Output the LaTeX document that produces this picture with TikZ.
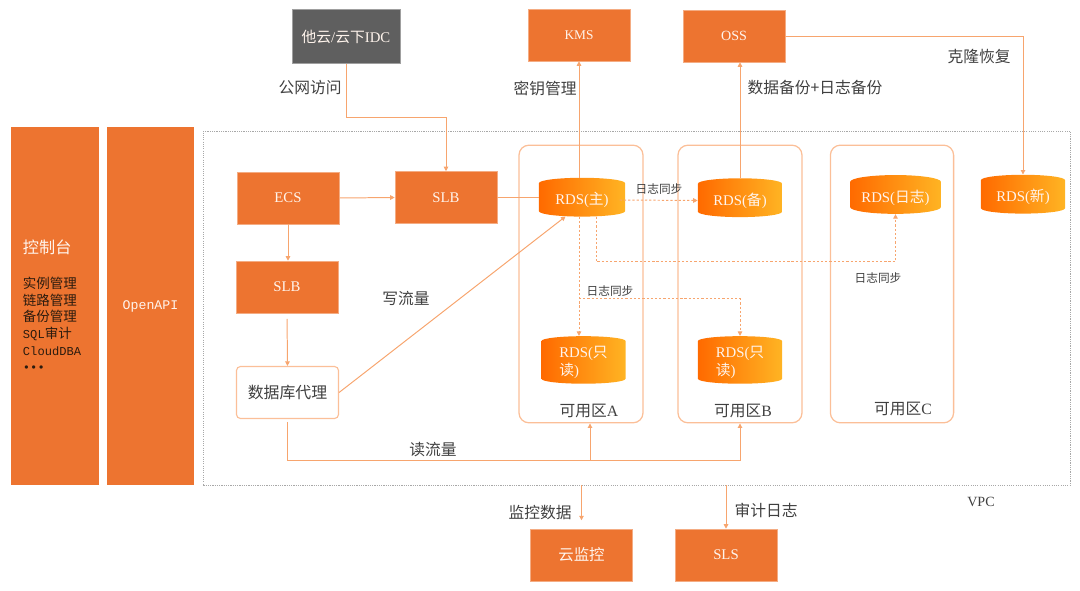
\documentclass[tikz,border=0pt]{standalone}
\usepackage{fontspec}
\setmainfont{Liberation Serif}
\setmonofont{Liberation Mono}
\newfontfamily\cjk{Noto Sans CJK SC}
\usetikzlibrary{arrows.meta,shapes.geometric}
\definecolor{aliorange}{HTML}{ED7430}
\definecolor{aligray}{HTML}{5F5F5F}
\definecolor{linkorange}{HTML}{F7A56E}
\definecolor{zoneorange}{HTML}{FBBF98}
\definecolor{rdsleft}{HTML}{FF6A00}
\definecolor{rdsright}{HTML}{FFB423}
\definecolor{labelgray}{HTML}{404040}
\definecolor{vpcgray}{HTML}{A8A8A8}
\definecolor{boxtext}{HTML}{FFF4EC}
\definecolor{listtext}{HTML}{2B1B0E}
\tikzset{
  obox/.style={rectangle, fill=aliorange, draw=aliorange!60!white, line width=0.4pt,
    text=boxtext, minimum width=2.55cm, minimum height=1.3cm, inner sep=0pt,
    font=\fontsize{10.5}{12}\selectfont},
  gbox/.style={obox, fill=aligray, draw=aligray!60!white, minimum width=2.7cm,
    minimum height=1.35cm, font=\fontsize{10.5}{12}\selectfont},
  pbox/.style={rectangle, rounded corners=0.1cm, draw=zoneorange, line width=0.8pt,
    fill=white, text=labelgray, minimum width=2.55cm, minimum height=1.3cm,
    font=\cjk\fontsize{11.3}{13}\selectfont},
  panel/.style={rectangle, fill=aliorange, minimum width=2.2cm, minimum height=8.95cm,
    inner sep=0pt},
  zone/.style={rectangle, rounded corners=0.25cm, draw=zoneorange, line width=0.9pt,
    minimum width=3.1cm, minimum height=6.94cm},
  vpcbox/.style={rectangle, draw=vpcgray, line width=0.5pt, dash pattern=on 0.8pt off 0.8pt,
    minimum width=21.675cm, minimum height=8.85cm},
  rds/.style={cylinder, shape border rotate=90, aspect=0.2, left color=rdsleft,
    right color=rdsright, draw=none, text=boxtext, minimum width=2.1cm,
    minimum height=0.97cm, inner sep=0pt, font=\fontsize{10.5}{13}\selectfont, align=left},
  lbl/.style={text=labelgray, font=\cjk\fontsize{11.2}{13}\selectfont, inner sep=0pt},
  synclbl/.style={lbl, font=\cjk\fontsize{8.3}{10}\selectfont},
  link/.style={draw=linkorange, line width=0.7pt, -{Triangle[length=3.2pt,width=3.2pt]}},
  sync/.style={link, dash pattern=on 1.6pt off 1.4pt},
}
\begin{document}
\begin{tikzpicture}[x=0.025cm,y=-0.025cm]
  \useasboundingbox (0,0) rectangle (1080,591);
  \node[panel, text width=1.6cm, align=left, text=listtext,
    font=\cjk\fontsize{9.6}{11.8}\selectfont] (con) at (55,306)
    {{\fontsize{11.5}{13}\selectfont\color{boxtext}控制台}\\[13pt]
     实例管理\\链路管理\\备份管理\\
     {\ttfamily\fontsize{8.6}{11.8}\selectfont SQL}审计\\
     {\ttfamily\fontsize{8.6}{11.8}\selectfont CloudDBA}\\
     {\ttfamily\fontsize{8.6}{11.8}\selectfont •••}};
  \node[panel, text=boxtext, font=\ttfamily\fontsize{9.4}{11}\selectfont,
    minimum width=2.17cm] (api) at (150.5,306) {OpenAPI};
  \node[vpcbox] (vpc) at (637,308) {};
  \node[lbl, font=\fontsize{10}{11}\selectfont] (vpcl) at (981,502) {VPC};
  \node[gbox] (idc) at (346,36.5) {{\cjk 他云}/{\cjk 云下}IDC};
  \node[obox, font=\fontsize{9.5}{10}\selectfont] (kms) at (579,35) {KMS};
  \node[obox, font=\fontsize{10}{10}\selectfont] (oss) at (734,36) {OSS};
  \node[obox] (ecs) at (288,198) {ECS};
  \node[obox] (slbT) at (446,197.5) {SLB};
  \node[obox] (slbL) at (287,287) {SLB};
  \node[pbox] (proxy) at (287.5,392.5) {数据库代理};
  \node[zone] (zA) at (581,284) {};
  \node[zone] (zB) at (740,284) {};
  \node[zone, minimum width=3.08cm] (zC) at (892,284) {};
  \node[lbl] (zAl) at (589,411) {可用区{\rmfamily A}};
  \node[lbl] (zBl) at (743,411) {可用区{\rmfamily B}};
  \node[lbl] (zCl) at (903,409) {可用区{\rmfamily C}};
  \node[rds, minimum width=2.15cm] (rdsM) at (582,200) {RDS({\cjk 主})};
  \node[rds] (rdsS) at (740,200.5) {RDS({\cjk 备})};
  \node[rds, minimum width=2.27cm] (rdsL) at (895.5,198) {RDS({\cjk 日志})};
  \node[rds] (rdsN) at (1023,197) {RDS({\cjk 新})};
  \node[rds] (rdsRA) at (583.5,362.5) {RDS({\cjk 只}\\{\cjk 读})};
  \node[rds] (rdsRB) at (740,362.5) {RDS({\cjk 只}\\{\cjk 读})};
  \node[obox, font=\cjk\fontsize{11}{13}\selectfont] (mon) at (581.5,555) {云监控};
  \node[obox] (sls) at (726,555) {SLS};
  \node[lbl] (publ) at (310,88) {公网访问};
  \node[lbl] (keyl) at (545,88) {密钥管理};
  \node[lbl] (bakl) at (815,88) {数据备份+日志备份};
  \node[lbl] (clnl) at (979,57) {克隆恢复};
  \node[lbl] (wrl) at (406,298) {写流量};
  \node[lbl] (rdl) at (433,450) {读流量};
  \node[lbl] (monl) at (540,513) {监控数据};
  \node[lbl] (audl) at (766,510) {审计日志};
  \node[synclbl] (syncS) at (659,189) {日志同步};
  \node[synclbl] (syncL) at (878,278) {日志同步};
  \node[synclbl] (syncR) at (610,291) {日志同步};
  \begin{scope}
    \draw[link] (idc.south) -- ++(0,54) -| (slbT.north);
    \draw[link] (rdsM.north -| kms.south) -- (kms.south);
    \draw[link] (rdsS.north) -- (rdsS.north |- oss.south);
    \draw[link] (oss.east) -| (rdsN.north);
    \draw[link] (ecs.east) -- (slbT.west);
    \draw[link, -] (slbT.east) -- (slbT.east -| rdsM.west);
    \draw[link] (ecs.south) -- (ecs.south |- slbL.north);
    \draw[link, shorten <=4pt] (slbL.south) -- (proxy.north);
    \draw[link] (proxy.east) -- (rdsM.south west);
    \draw[link, shorten <=2pt] (proxy.south) -- ++(0,41) coordinate (rdturn) -| (zB.south);
    \coordinate (zAin) at ([xshift=0.225cm]zA.south);
    \draw[link] (zAin |- rdturn) -- (zAin);
    \draw[link] (vpc.south -| mon.north) -- ([yshift=6pt]mon.north);
    \draw[link] (vpc.south -| sls.north) -- (sls.north);
  \end{scope}
  \begin{scope}
    \draw[sync] ([xshift=-4pt]rdsM.east) -- (rdsS.west);
    \draw[sync] ([xshift=0.35cm]rdsM.south) -- ++(0,45) -| (rdsL.south);
    \draw[sync] ([xshift=-0.075cm]rdsM.south) coordinate (rotop) -- (rotop |- rdsRA.north);
    \draw[sync] ([yshift=-2.05cm]rotop) -| (rdsRB.north);
  \end{scope}
\end{tikzpicture}
\end{document}
